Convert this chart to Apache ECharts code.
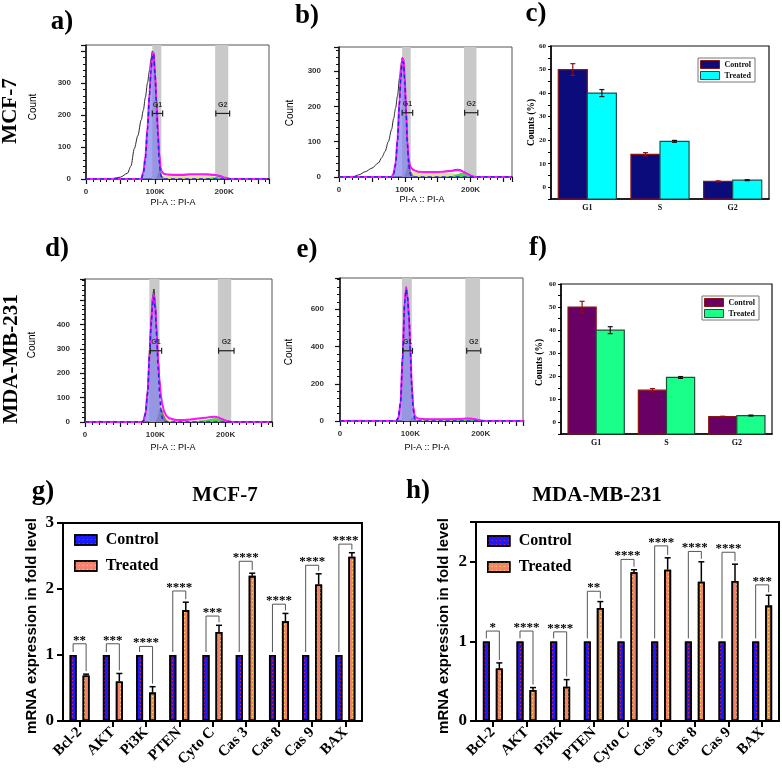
<!DOCTYPE html>
<html><head><meta charset="utf-8"><title>Cell cycle and mRNA expression</title>
<script src="https://cdn.jsdelivr.net/npm/echarts@6.0.0/dist/echarts.min.js"></script>
<style>html,body{margin:0;padding:0;background:#fff;}#chart{width:782px;height:779px;}</style>
</head><body><div id="chart"></div>
<script>
// ================= DATA =================
// Flow cytometry histograms: PI-A (x1000) and counts
const histX = [0,10,20,30,40,50,60,65,70,75,80,83,86,89,92,94,96,98,100,102,104,106,108,110,113,116,120,130,140,150,160,170,180,185,190,195,200,205,210,220,262];
const gateLabels = ['G1','G2'];
// a) MCF-7 control
const aRaw  = [0,0,0,0,2,6,18,40,95,135, 185,215,255,300,340,375,400,395,330,250, 160,80,35,20,15,14,13,12,12,14, 14,14,13,12,10,8,5,2,0,0, 0];
const aFit  = [0,0,0,0,0,0,0,0,0,0, 0,20,70,160,270,340,390,395,330,250, 160,80,35,22,16,15,14,13,13,15, 15,15,14,13,12,9,5,2,0,0, 0];
const aG1   = [0,0,0,0,0,0,0,0,0,0, 0,18,65,155,265,335,385,390,325,240, 140,55,15,3,0,0,0,0,0,0, 0,0,0,0,0,0,0,0,0,0, 0];
const aGray = [0,0,0,0,0,0,0,0,0,0, 0,0,0,0,0,0,0,0,0,5, 15,28,25,12,3,0,0,0,0,0, 0,0,0,0,0,0,0,0,0,0, 0];
const aS    = [0,0,0,0,0,0,0,0,0,0, 0,0,0,0,0,0,0,0,0,0, 3,5,7,9,10,10,10,10,11,12, 12,12,10,8,6,3,1,0,0,0, 0];
const aG2   = [0,0,0,0,0,0,0,0,0,0, 0,0,0,0,0,0,0,0,0,0, 0,0,0,0,0,0,0,0,0,0, 0,0,3,5,7,7,4,1,0,0, 0];
const aBands = [[96,109],[187,206]];
const aGates = [[96,111,205],[188,208,205]];
// b) MCF-7 treated
const bRaw  = [0,0,0,6,15,25,40,55,72,100, 135,165,195,230,280,315,338,335,280,190, 100,50,32,25,22,18,15,15,14,15, 16,18,22,20,15,10,5,1,0,0, 0];
const bFit  = [0,0,0,0,0,0,0,0,0,0, 0,10,40,110,220,290,335,335,280,190, 100,50,32,25,20,18,15,14,14,14, 15,17,20,18,14,9,4,1,0,0, 0];
const bG1   = [0,0,0,0,0,0,0,0,0,0, 0,8,35,100,210,280,325,325,270,180, 90,35,10,2,0,0,0,0,0,0, 0,0,0,0,0,0,0,0,0,0, 0];
const bGray = [0,0,0,0,0,0,0,0,0,0, 0,0,0,0,0,0,0,0,5,15, 35,45,35,15,4,0,0,0,0,0, 0,0,0,0,0,0,0,0,0,0, 0];
const bS    = [0,0,0,0,0,0,0,0,0,0, 0,0,0,0,0,0,0,0,0,2, 5,8,10,12,14,14,14,13,13,13, 13,12,9,6,3,1,0,0,0,0, 0];
const bG2   = [0,0,0,0,0,0,0,0,0,0, 0,0,0,0,0,0,0,0,0,0, 0,0,0,0,0,0,0,0,0,0, 0,2,8,11,12,9,4,1,0,0, 0];
const bBands = [[96,109],[190,209]];
const bGates = [[96,112,182],[191,211,182]];
// d) MDA-MB-231 control
const dRaw  = [0,0,3,0,0,0,0,0,0,0, 0,5,40,130,300,420,510,545,490,380, 260,175,110,70,40,25,15,8,8,10, 14,17,21,22,18,12,6,2,0,0, 0];
const dFit  = [0,0,0,0,0,0,0,0,0,0, 0,4,35,120,285,400,490,521,475,370, 255,170,108,70,40,25,15,8,8,10, 14,17,21,22,18,12,6,2,0,0, 0];
const dG1   = [0,0,0,0,0,0,0,0,0,0, 0,4,33,115,280,395,480,510,460,350, 220,120,50,15,2,0,0,0,0,0, 0,0,0,0,0,0,0,0,0,0, 0];
const dGray = [0,0,0,0,0,0,0,0,0,0, 0,0,0,0,0,0,0,0,0,10, 30,55,65,50,25,8,0,0,0,0, 0,0,0,0,0,0,0,0,0,0, 0];
const dS    = [0,0,0,0,0,0,0,0,0,0, 0,0,0,0,0,0,0,0,0,0, 12,30,45,45,35,22,13,7,6,6, 6,5,4,3,2,1,0,0,0,0, 0];
const dG2   = [0,0,0,0,0,0,0,0,0,0, 0,0,0,0,0,0,0,0,0,0, 0,0,0,0,0,0,0,0,0,0, 4,8,14,16,14,9,4,1,0,0, 0];
const dBands = [[91.5,106],[189,208]];
const dGates = [[93,109,292],[190,212,292]];
// e) MDA-MB-231 treated
const eRaw  = [0,0,3,3,2,0,0,0,0,0, 0,20,100,350,650,715,670,560,380,200, 80,30,20,15,12,11,10,9,9,9, 10,11,13,13,11,7,3,0,0,0, 0];
const eFit  = [0,0,0,0,0,0,0,0,0,0, 0,18,98,345,645,720,668,560,378,195, 78,30,20,15,12,11,10,9,9,9, 10,11,13,13,11,7,3,0,0,0, 0];
const eG1   = [0,0,0,0,0,0,0,0,0,0, 0,18,95,340,640,705,660,560,370,180, 60,15,3,0,0,0,0,0,0,0, 0,0,0,0,0,0,0,0,0,0, 0];
const eGray = [0,0,0,0,0,0,0,0,0,0, 0,0,0,0,0,0,0,0,5,15, 25,20,10,3,0,0,0,0,0,0, 0,0,0,0,0,0,0,0,0,0, 0];
const eS    = [0,0,0,0,0,0,0,0,0,0, 0,0,0,0,0,0,0,0,0,2, 5,8,9,9,9,9,9,8,8,8, 8,7,5,4,3,1,0,0,0,0, 0];
const eG2   = [0,0,0,0,0,0,0,0,0,0, 0,0,0,0,0,0,0,0,0,0, 0,0,0,0,0,0,0,0,0,0, 2,4,7,8,7,5,2,0,0,0, 0];
const eBands = [[88,102],[178,199]];
const eGates = [[89,103,377],[180,200,377]];

// Cell-cycle phase bars (c, f)
const phases = ['G1','S','G2'];
const cControl = [50, 14, 2.5];   const cControlErr = [2.5, 0.7, 0.2];
const cTreated = [40, 19.5, 3];   const cTreatedErr = [1.5, 0.4, 0.2];
const fControl = [50, 14, 2.5];   const fControlErr = [2.5, 0.7, 0.2];
const fTreated = [40, 19.5, 3];   const fTreatedErr = [1.5, 0.4, 0.2];

// mRNA expression (g, h)
const genes = ['Bcl-2','AKT','Pi3K','PTEN','Cyto C','Cas 3','Cas 8','Cas 9','BAX'];
const gControl = [1,1,1,1,1,1,1,1,1];
const gTreated = [0.69,0.60,0.43,1.68,1.35,2.20,1.51,2.07,2.49];
const gTreatedErr = [0.02,0.12,0.09,0.12,0.10,0.04,0.12,0.16,0.06];
const gSig = ['**','***','****','****','***','****','****','****','****'];
const gBracket = [1.17,1.17,1.13,1.97,1.59,2.42,1.77,2.36,2.68];
const hControl = [1,1,1,1,1,1,1,1,1];
const hTreated = [0.66,0.39,0.43,1.42,1.87,1.90,1.75,1.76,1.45];
const hTreatedErr = [0.07,0.03,0.09,0.08,0.03,0.15,0.25,0.21,0.13];
const hSig = ['*','****','****','**','****','****','****','****','***'];
const hBracket = [1.13,1.13,1.12,1.63,2.03,2.20,2.13,2.12,1.71];

// ================= STYLE / LAYOUT =================
const SERIF = '"Liberation Serif","Times New Roman",serif';
const SANS = '"Liberation Sans",Arial,sans-serif';
const NARROW = '"Liberation Sans Narrow","Liberation Sans",Arial,sans-serif';

const histPanels = [
  {grid:{left:86,top:45,width:183,height:134}, xmax:265, ymax:419, yint:100, ytop:300, ylm:15, raw:aRaw, fit:aFit, g1:aG1, gray:aGray, s:aS, g2:aG2, bands:aBands, gates:aGates},
  {grid:{left:339,top:47,width:173,height:130}, xmax:263, ymax:368, yint:100, ytop:300, ylm:18, raw:bRaw, fit:bFit, g1:bG1, gray:bGray, s:bS, g2:bG2, bands:bBands, gates:bGates},
  {grid:{left:85,top:279,width:187,height:143}, xmax:266, ymax:586, yint:100, ytop:400, ylm:15, raw:dRaw, fit:dFit, g1:dG1, gray:dGray, s:dS, g2:dG2, bands:dBands, gates:dGates},
  {grid:{left:340,top:278,width:183,height:143}, xmax:260, ymax:768, yint:200, ytop:600, ylm:16, raw:eRaw, fit:eFit, g1:eG1, gray:eGray, s:eS, g2:eG2, bands:eBands, gates:eGates}
];

const grids = [], xAxes = [], yAxes = [], series = [], legends = [];
const xy = arr => histX.map((x, i) => [x, arr[i]]);

function bandRender(params, api) {
  const x1 = api.coord([api.value(0), 0])[0], x2 = api.coord([api.value(1), 0])[0];
  const cs = params.coordSys;
  return {type:'rect', shape:{x:x1, y:cs.y, width:x2 - x1, height:cs.height}, style:{fill:'#c9c9c9'}};
}
function gateRender(params, api) {
  const y = api.value(2);
  const p1 = api.coord([api.value(0), y]), p2 = api.coord([api.value(1), y]);
  const st = {stroke:'#222', lineWidth:1.2};
  return {type:'group', children:[
    {type:'line', shape:{x1:p1[0], y1:p1[1], x2:p2[0], y2:p2[1]}, style:st},
    {type:'line', shape:{x1:p1[0], y1:p1[1]-3, x2:p1[0], y2:p1[1]+3}, style:st},
    {type:'line', shape:{x1:p2[0], y1:p2[1]-3, x2:p2[0], y2:p2[1]+3}, style:st},
    {type:'text', style:{text:gateLabels[params.dataIndex], x:(p1[0]+p2[0])/2, y:p1[1]-5, align:'center', verticalAlign:'bottom', fontSize:7, fontWeight:'bold', fontFamily:SANS, fill:'#333'}}
  ]};
}

histPanels.forEach((P, gi) => {
  grids.push(Object.assign({show:true, borderColor:'#555', borderWidth:1, containLabel:false, outerBoundsMode:'none'}, P.grid));
  xAxes.push({gridIndex:gi, type:'value', min:0, max:P.xmax, interval:50,
    axisLine:{show:true, onZero:false, lineStyle:{color:'#111', width:1.5}},
    axisTick:{show:true, inside:false, length:5, lineStyle:{color:'#111', width:1.2}},
    minorTick:{show:true, splitNumber:5, length:3, lineStyle:{color:'#111', width:1}},
    axisLabel:{margin:9, fontFamily:SANS, fontSize:8, fontWeight:'bold', color:'#333', formatter:v => v === 0 ? '0' : (v % 100 === 0 ? v + 'K' : '')},
    splitLine:{show:false}, minorSplitLine:{show:false}});
  yAxes.push({gridIndex:gi, type:'value', min:0, max:P.ymax, interval:P.yint,
    axisLine:{show:true, onZero:false, lineStyle:{color:'#111', width:1.5}},
    axisTick:{show:true, inside:false, length:5, lineStyle:{color:'#111', width:1.2}},
    minorTick:{show:true, splitNumber:5, length:3, lineStyle:{color:'#111', width:1}},
    axisLabel:{margin:P.ylm, fontFamily:SANS, fontSize:8, fontWeight:'bold', color:'#333', formatter:v => (v <= P.ytop && v % P.yint === 0) ? String(v) : ''},
    splitLine:{show:false}, minorSplitLine:{show:false}});
  const base = {xAxisIndex:gi, yAxisIndex:gi, type:'line', symbol:'none', showSymbol:false, silent:true, smooth:0.3, smoothMonotone:'x'};
  series.push({type:'custom', xAxisIndex:gi, yAxisIndex:gi, data:P.bands, renderItem:bandRender, silent:true, z:1});
  series.push(Object.assign({}, base, {data:xy(P.s), lineStyle:{width:0}, areaStyle:{color:'rgba(222,222,140,0.9)', opacity:1}, z:2}));
  series.push(Object.assign({}, base, {data:xy(P.g2), lineStyle:{width:0}, areaStyle:{color:'rgba(70,205,60,0.9)', opacity:1}, z:2}));
  series.push(Object.assign({}, base, {data:xy(P.gray), lineStyle:{width:0}, areaStyle:{color:'rgba(115,115,115,0.9)', opacity:1}, z:2}));
  series.push(Object.assign({}, base, {data:xy(P.g1), lineStyle:{width:0}, areaStyle:{color:'rgba(130,130,235,0.7)', opacity:1}, z:3}));
  series.push(Object.assign({}, base, {data:xy(P.raw), lineStyle:{width:1, color:'#2a2a2a'}, z:4}));
  series.push(Object.assign({}, base, {data:xy(P.fit), lineStyle:{width:2, color:'#ff14ff'}, z:5}));
  series.push(Object.assign({}, base, {data:xy(P.g1), lineStyle:{width:1.5, type:[4,3], color:'#2222ee'}, z:6}));
  series.push({type:'custom', xAxisIndex:gi, yAxisIndex:gi, data:P.gates, renderItem:gateRender, silent:true, z:7});
});

// ---- c and f : phase bars ----
const CF_MIN = -5;
const cfBar = (side, fill, stroke) => (params, api) => {
  const i = api.value(0), v = api.value(1);
  const top = api.coord([i, v]), bot = api.coord([i, CF_MIN]);
  const bw = api.size([1, 0])[0] * 0.4;
  return {type:'rect', shape:{x: side < 0 ? top[0] - bw : top[0], y: top[1], width: bw, height: bot[1] - top[1]}, style:{fill, stroke, lineWidth:1.2}};
};
const cfErr = (side, color) => (params, api) => {
  const i = api.value(0), v = api.value(1), e = api.value(2);
  const c0 = api.coord([i, v]), bw = api.size([1, 0])[0] * 0.4;
  const x = c0[0] + side * bw / 2;
  const y1 = api.coord([i, v + e])[1], y2 = api.coord([i, v - e])[1];
  const st = {stroke:color, lineWidth:1.2};
  return {type:'group', children:[
    {type:'line', shape:{x1:x, y1:y1, x2:x, y2:y2}, style:st},
    {type:'line', shape:{x1:x-2.5, y1:y1, x2:x+2.5, y2:y1}, style:st},
    {type:'line', shape:{x1:x-2.5, y1:y2, x2:x+2.5, y2:y2}, style:st}
  ]};
};
const cfPanels = [
  {key:'c', grid:{left:551, top:46, width:218, height:153}, ctrl:cControl, ctrlErr:cControlErr, trt:cTreated, trtErr:cTreatedErr,
   ctrlColor:'#0b0b7c', ctrlBorder:'#8b1515', trtColor:'#00ffff', trtBorder:'#1d4f4f', legend:{left:698, top:58}},
  {key:'f', grid:{left:561, top:284, width:211, height:150}, ctrl:fControl, ctrlErr:fControlErr, trt:fTreated, trtErr:fTreatedErr,
   ctrlColor:'#680066', ctrlBorder:'#8b1515', trtColor:'#19ff8a', trtBorder:'#1d4f3a', legend:{left:702, top:296}}
];
cfPanels.forEach((P, k) => {
  const gi = grids.length;
  grids.push(Object.assign({show:true, borderColor:'#111', borderWidth:1.2, containLabel:false, outerBoundsMode:'none'}, P.grid));
  xAxes.push({gridIndex:gi, type:'category', data:phases, boundaryGap:true,
    axisLine:{show:true, onZero:false, lineStyle:{color:'#000', width:1.5}}, axisTick:{show:false},
    axisLabel:{margin:5, fontFamily:SERIF, fontWeight:'bold', fontSize:8, color:'#111'}, splitLine:{show:false}});
  yAxes.push({gridIndex:gi, type:'value', min:CF_MIN, max:60, interval:5,
    axisLine:{show:true, onZero:false, lineStyle:{color:'#000', width:1.5}},
    axisTick:{show:true, inside:false, length:3, lineStyle:{color:'#000', width:1}},
    axisLabel:{margin:5, fontFamily:SERIF, fontWeight:'bold', fontSize:7, color:'#111', formatter:v => (v >= 0 && v % 10 === 0) ? String(v) : ''},
    splitLine:{show:false}});
  const cd = P.ctrl.map((v, i) => [i, v]), td = P.trt.map((v, i) => [i, v]);
  series.push({name:P.key + ':Control', type:'custom', xAxisIndex:gi, yAxisIndex:gi, data:cd, renderItem:cfBar(-1, P.ctrlColor, P.ctrlBorder), itemStyle:{color:P.ctrlColor}, silent:true, z:2});
  series.push({name:P.key + ':Treated', type:'custom', xAxisIndex:gi, yAxisIndex:gi, data:td, renderItem:cfBar(1, P.trtColor, P.trtBorder), itemStyle:{color:P.trtColor}, silent:true, z:2});
  series.push({name:P.key + ':ce', type:'custom', xAxisIndex:gi, yAxisIndex:gi, data:P.ctrl.map((v, i) => [i, v, P.ctrlErr[i]]), renderItem:cfErr(-1, '#8b1010'), silent:true, z:3});
  series.push({name:P.key + ':te', type:'custom', xAxisIndex:gi, yAxisIndex:gi, data:P.trt.map((v, i) => [i, v, P.trtErr[i]]), renderItem:cfErr(1, '#111'), silent:true, z:3});
  legends.push({left:P.legend.left, top:P.legend.top, orient:'vertical', backgroundColor:'#fff', borderColor:'#777', borderWidth:1, padding:[2,4,2,2],
    itemWidth:19, itemHeight:8, itemGap:2, selectedMode:false, icon:'rect',
    textStyle:{fontFamily:SERIF, fontWeight:'bold', fontSize:8, color:'#111'},
    formatter:n => n.split(':')[1],
    data:[{name:P.key + ':Control', icon:'rect', itemStyle:{color:P.ctrlColor, borderColor:P.ctrlBorder, borderWidth:1}},
          {name:P.key + ':Treated', icon:'rect', itemStyle:{color:P.trtColor, borderColor:P.trtBorder, borderWidth:1}}]});
});

// ---- g and h : mRNA bars ----
const BAR_W = 7, GH_OFF = 6.5;
const CTRL_DECAL = {symbol:'rect', symbolSize:1, color:'rgba(235,40,90,0.95)', dashArrayX:[1,3], dashArrayY:[1,3], rotation:0};
const TRT_DECAL = {symbol:'rect', symbolSize:1, color:'rgba(255,235,90,0.95)', dashArrayX:[1,3], dashArrayY:[1,3], rotation:0};
const ghErr = (params, api) => {
  const i = api.value(0), v = api.value(1), e = api.value(2);
  const p = api.coord([i, v]), q = api.coord([i, v + e]);
  const x = p[0] + GH_OFF, st = {stroke:'#000', lineWidth:1.5};
  return {type:'group', children:[
    {type:'line', shape:{x1:x, y1:p[1], x2:x, y2:q[1]}, style:st},
    {type:'line', shape:{x1:x-3, y1:q[1], x2:x+3, y2:q[1]}, style:st}]};
};
const ghBracket = labels => (params, api) => {
  const i = api.value(0), lv = api.value(1), lt = api.value(2), rt = api.value(3);
  const top = api.coord([i, lv]);
  const lb = api.coord([i, lt])[1] - 3, rb = api.coord([i, rt])[1] - 3;
  const xl = top[0] - GH_OFF, xr = top[0] + GH_OFF;
  return {type:'group', children:[
    {type:'polyline', shape:{points:[[xl, lb], [xl, top[1]], [xr, top[1]], [xr, rb]]}, style:{stroke:'#555', lineWidth:1, fill:null}},
    {type:'text', style:{text:labels[params.dataIndex], x:top[0], y:top[1] + 3, align:'center', verticalAlign:'bottom', fontSize:13, fontWeight:'bold', fontFamily:SERIF, fill:'#000'}}]};
};
const ghPanels = [
  {key:'g', grid:{left:63, top:523, width:299, height:198}, ymax:3, ctrl:gControl, trt:gTreated, err:gTreatedErr, sig:gSig, br:gBracket, legend:{left:69, top:527}},
  {key:'h', grid:{left:476, top:522, width:303, height:199}, ymax:2.5, ctrl:hControl, trt:hTreated, err:hTreatedErr, sig:hSig, br:hBracket, legend:{left:482, top:528}}
];
ghPanels.forEach(P => {
  const gi = grids.length;
  grids.push(Object.assign({show:true, borderColor:'#000', borderWidth:2, containLabel:false, outerBoundsMode:'none'}, P.grid));
  xAxes.push({gridIndex:gi, type:'category', data:genes, boundaryGap:true,
    axisLine:{show:true, onZero:false, lineStyle:{color:'#000', width:2}},
    axisTick:{show:true, alignWithLabel:true, length:6, lineStyle:{color:'#000', width:2}},
    axisLabel:{interval:0, rotate:45, margin:9, fontFamily:SERIF, fontWeight:'bold', fontSize:15, color:'#000'}, splitLine:{show:false}});
  yAxes.push({gridIndex:gi, type:'value', min:0, max:P.ymax, interval:1,
    axisLine:{show:true, onZero:false, lineStyle:{color:'#000', width:2}},
    axisTick:{show:true, length:6, lineStyle:{color:'#000', width:2}},
    axisLabel:{margin:9, fontFamily:SERIF, fontWeight:'bold', fontSize:17, color:'#000', formatter:v => Number.isInteger(v) ? String(v) : ''},
    splitLine:{show:false}});
  series.push({name:P.key + ':Control', type:'bar', xAxisIndex:gi, yAxisIndex:gi, data:P.ctrl, barWidth:BAR_W, barGap:'85%', silent:true,
    itemStyle:{color:'#1a1aff', borderColor:'#000', borderWidth:1.6, decal:CTRL_DECAL}, z:2});
  series.push({name:P.key + ':Treated', type:'bar', xAxisIndex:gi, yAxisIndex:gi, data:P.trt, barWidth:BAR_W, barGap:'85%', silent:true,
    itemStyle:{color:'#f4826f', borderColor:'#000', borderWidth:1.6, decal:TRT_DECAL}, z:2});
  series.push({type:'custom', xAxisIndex:gi, yAxisIndex:gi, data:P.trt.map((v, i) => [i, v, P.err[i]]), renderItem:ghErr, silent:true, z:3});
  series.push({type:'custom', xAxisIndex:gi, yAxisIndex:gi, data:P.br.map((b, i) => [i, b, P.ctrl[i], P.trt[i] + P.err[i]]), renderItem:ghBracket(P.sig), silent:true, z:3});
  legends.push({left:P.legend.left, top:P.legend.top, orient:'vertical', itemWidth:22, itemHeight:10, itemGap:10, selectedMode:false, icon:'rect',
    textStyle:{fontFamily:SERIF, fontWeight:'bold', fontSize:16, color:'#000', padding:[0,0,0,4]},
    formatter:n => n.split(':')[1],
    data:[{name:P.key + ':Control', icon:'rect', itemStyle:{color:'#1a1aff', borderColor:'#000', borderWidth:1.5, decal:CTRL_DECAL}},
          {name:P.key + ':Treated', icon:'rect', itemStyle:{color:'#f4826f', borderColor:'#000', borderWidth:1.5, decal:TRT_DECAL}}]});
});

// ---- texts ----
const T = (text, x, y, font, opts) => Object.assign({type:'text', x:x, y:y, silent:true,
  style:{text:text, align:'center', verticalAlign:'middle', font:font, fill:'#000'}}, opts || {});
const R90 = {rotation: Math.PI / 2};
const graphics = [
  T('a)', 62, 22, 'bold 27px ' + SERIF), T('b)', 307, 16, 'bold 27px ' + SERIF), T('c)', 536, 14, 'bold 27px ' + SERIF),
  T('d)', 57, 249, 'bold 27px ' + SERIF), T('e)', 307, 250, 'bold 27px ' + SERIF), T('f)', 538, 248, 'bold 27px ' + SERIF),
  T('g)', 43, 492, 'bold 27px ' + SERIF), T('h)', 418, 491, 'bold 27px ' + SERIF),
  T('MCF-7', 11, 111, 'bold 21px ' + SERIF, R90), T('MDA-MB-231', 12, 359, 'bold 21px ' + SERIF, R90),
  T('MCF-7', 225, 496, 'bold 21px ' + SERIF), T('MDA-MB-231', 597, 496, 'bold 21px ' + SERIF),
  T('Count', 33, 107, '10px ' + NARROW, R90), T('Count', 290, 113, '10px ' + NARROW, R90),
  T('Count', 32, 345, '10px ' + NARROW, R90), T('Count', 289, 352, '10px ' + NARROW, R90),
  T('PI-A :: PI-A', 173, 203, '9px ' + SANS), T('PI-A :: PI-A', 422, 200, '9px ' + SANS),
  T('PI-A :: PI-A', 173, 448, '9px ' + SANS), T('PI-A :: PI-A', 427, 448, '9px ' + SANS),
  T('Counts (%)', 531.5, 122.5, 'bold 9.5px ' + SERIF, R90), T('Counts (%)', 540, 362.5, 'bold 9.5px ' + SERIF, R90),
  T('mRNA expression in fold level', 32, 626, 'bold 15px ' + SANS, R90),
  T('mRNA expression in fold level', 443.5, 626, 'bold 15px ' + SANS, R90)
];

const chart = echarts.init(document.getElementById('chart'), null, {renderer:'canvas', width:782, height:779});
chart.setOption({
  animation:false,
  backgroundColor:'#ffffff',
  grid:grids, xAxis:xAxes, yAxis:yAxes, series:series, legend:legends,
  graphic:{elements:graphics}
});
</script></body></html>
